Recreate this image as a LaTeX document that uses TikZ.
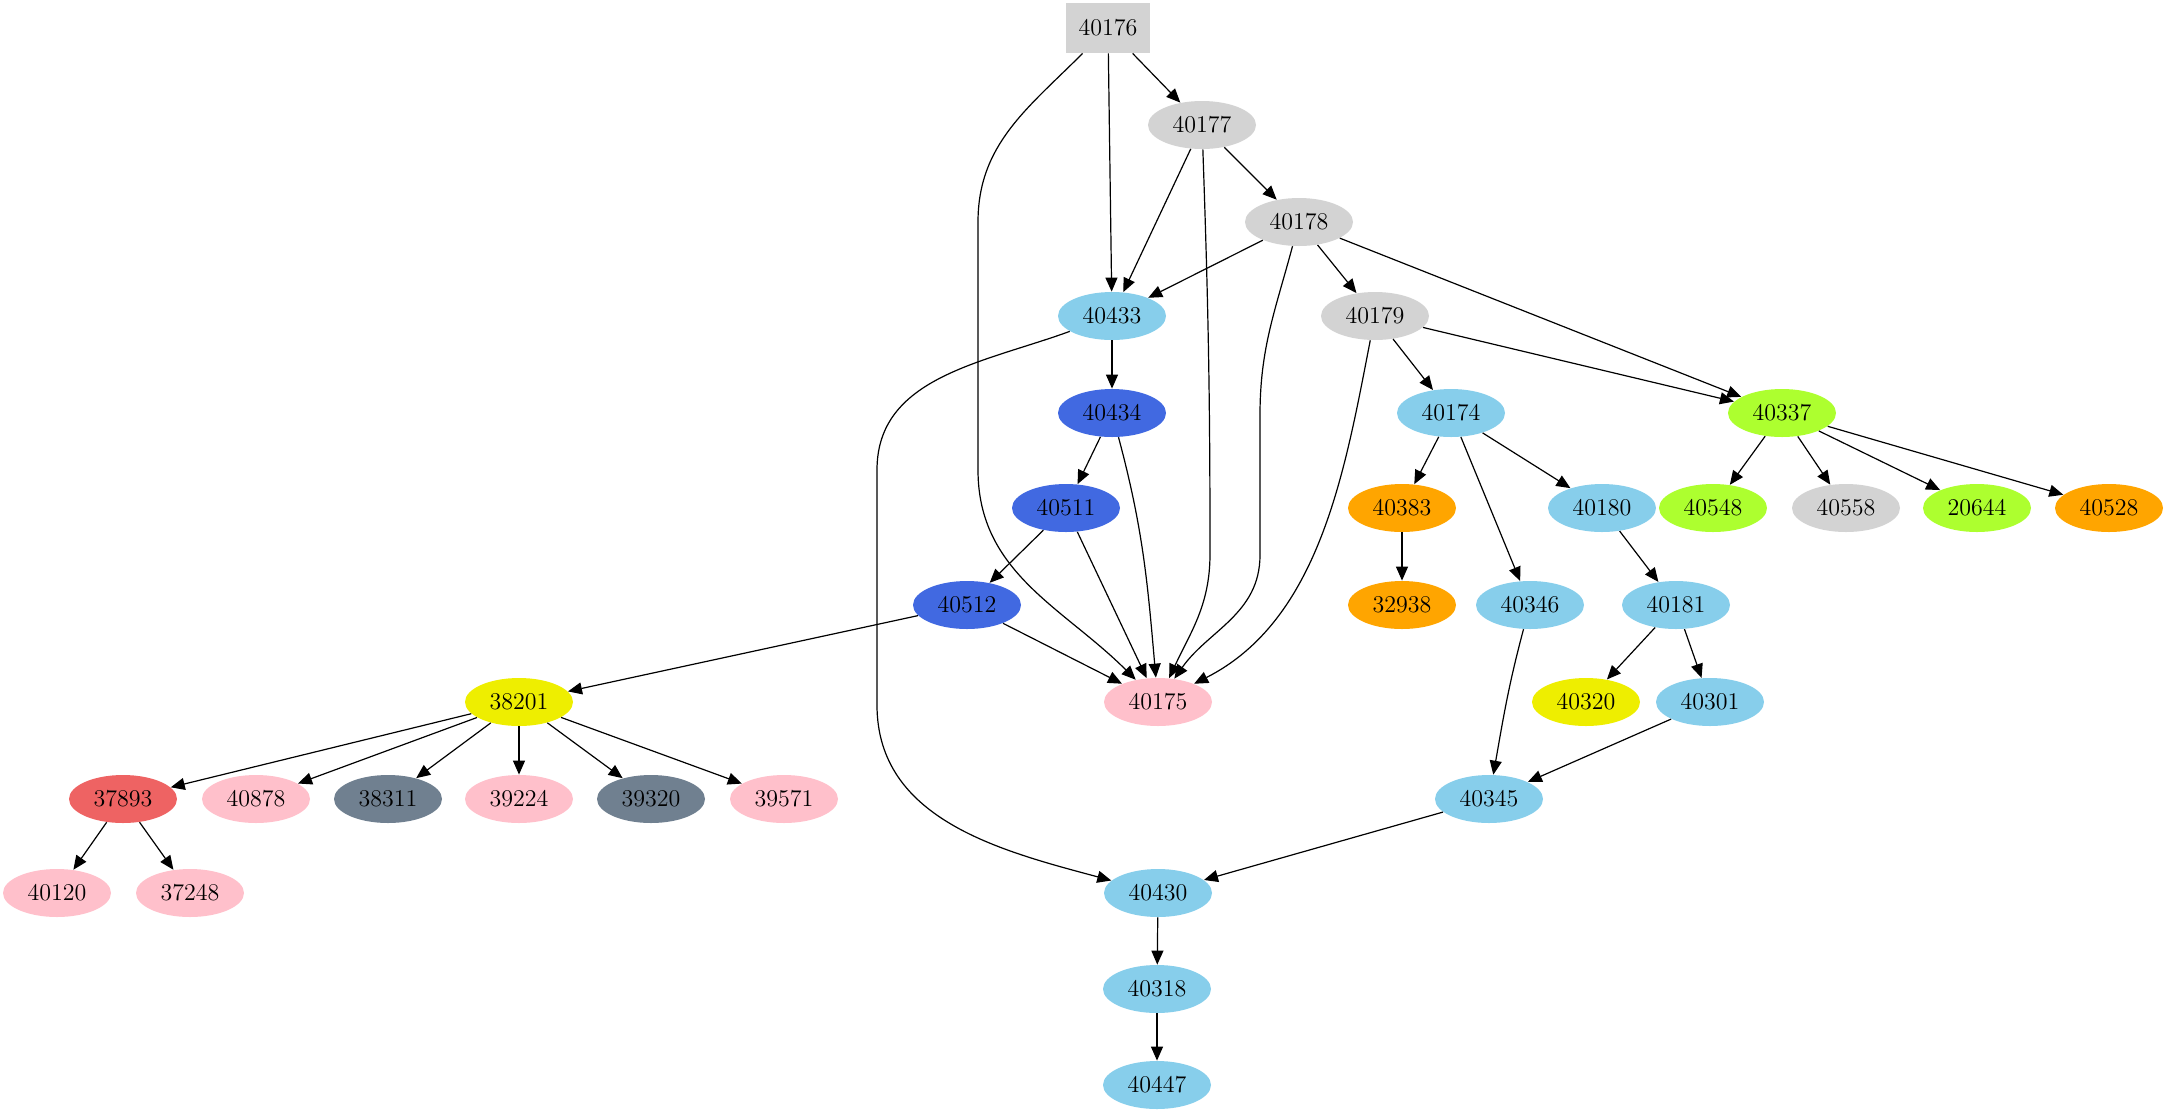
\documentclass[tikz,border=0pt]{standalone}
\usetikzlibrary{arrows.meta,shapes.geometric}
\begin{document}
\begin{tikzpicture}[x=0.5pt,y=-0.5pt,
 n/.style={ellipse,minimum width=54pt,minimum height=24pt,inner sep=0pt,font=\fontsize{12}{14}\selectfont},
 e/.style={-{Triangle[length=7pt,width=6pt]},line width=0.6pt},
 sb/.style={n,fill=skyb},rb/.style={n,fill=royb},lg/.style={n,fill=lgr},gy/.style={n,fill=gyel},
 or/.style={n,fill=orng},pk/.style={n,fill=pnk},ye/.style={n,fill=yel},ir/.style={n,fill=ired},sg/.style={n,fill=slg}]
\definecolor{skyb}{HTML}{87CEEB}\definecolor{royb}{HTML}{4169E1}\definecolor{lgr}{HTML}{D3D3D3}
\definecolor{gyel}{HTML}{ADFF2F}\definecolor{orng}{HTML}{FFA500}\definecolor{pnk}{HTML}{FFC0CB}
\definecolor{yel}{HTML}{EEEE00}\definecolor{ired}{HTML}{EE6363}\definecolor{slg}{HTML}{708090}
\useasboundingbox (0,0) rectangle (2169,1115);
\node[rectangle,fill=lgr,minimum width=42pt,minimum height=25pt,font=\fontsize{12}{14}\selectfont] (40176) at (1108,28) {40176};
\node[lg] (40177) at (1202,125) {40177};
\node[lg] (40178) at (1299,222) {40178};
\node[sb] (40433) at (1112,316) {40433};
\node[lg] (40179) at (1375,316) {40179};
\node[rb] (40434) at (1112,413) {40434};
\node[sb] (40174) at (1451,413) {40174};
\node[gy] (40337) at (1782,413) {40337};
\node[rb] (40511) at (1066,508) {40511};
\node[or] (40383) at (1402,508) {40383};
\node[sb] (40180) at (1602,508) {40180};
\node[gy] (40548) at (1713,508) {40548};
\node[lg] (40558) at (1846,508) {40558};
\node[gy] (20644) at (1977,508) {20644};
\node[or] (40528) at (2109,508) {40528};
\node[rb] (40512) at (967,605) {40512};
\node[or] (32938) at (1402,605) {32938};
\node[sb] (40346) at (1530,605) {40346};
\node[sb] (40181) at (1676,605) {40181};
\node[ye] (38201) at (519,702) {38201};
\node[pk] (40175) at (1158,702) {40175};
\node[ye] (40320) at (1586,702) {40320};
\node[sb] (40301) at (1710,702) {40301};
\node[ir] (37893) at (123,799) {37893};
\node[pk] (40878) at (256,799) {40878};
\node[sg] (38311) at (388,799) {38311};
\node[pk] (39224) at (519,799) {39224};
\node[sg] (39320) at (651,799) {39320};
\node[pk] (39571) at (784,799) {39571};
\node[sb] (40345) at (1489,799) {40345};
\node[pk] (40120) at (57,893) {40120};
\node[pk] (37248) at (190,893) {37248};
\node[sb] (40430) at (1158,893) {40430};
\node[sb] (40318) at (1157,989) {40318};
\node[sb] (40447) at (1157,1085) {40447};
\coordinate (a1) at (978,222); \coordinate (a2) at (978,470);
\coordinate (b1) at (1210,554);
\coordinate (c1) at (1260,415); \coordinate (c2) at (1260,555);
\coordinate (d1) at (877,470); \coordinate (d2) at (877,705);
\foreach \s/\t in {40176/40177,40176/40433,40177/40433,40177/40178,40178/40433,40178/40179,40178/40337,40179/40337,40179/40174,40433/40434,40434/40511,40511/40512,40511/40175,40512/40175,40512/38201,40174/40383,40174/40180,40174/40346,40383/32938,40180/40181,40181/40320,40181/40301,40301/40345,40345/40430,40430/40318,40318/40447,40337/40548,40337/40558,40337/20644,40337/40528,38201/37893,38201/40878,38201/38311,38201/39224,38201/39320,38201/39571,37893/40120,37893/37248}
 \draw[e] (\s) -- (\t);
\draw[e] (40176) to[out=-135,in=90] (a1) -- (a2) to[out=-90,in=135] (40175);
\draw[e] (40177) to[out=-88,in=90] (b1) to[out=-90,in=65] (40175);
\draw[e] (40178) to[out=-105,in=90] (c1) -- (c2) to[out=-90,in=55] (40175);
\draw[e] (40179) .. controls (1345,470) and (1320,620) .. (40175);
\draw[e] (40433) to[out=-160,in=90] (d1) -- (d2) to[out=-90,in=165] (40430);
\draw[e] (40434) to[out=-75,in=95] (40175);
\draw[e] (40346) to[out=-105,in=80] (40345);
\end{tikzpicture}
\end{document}
